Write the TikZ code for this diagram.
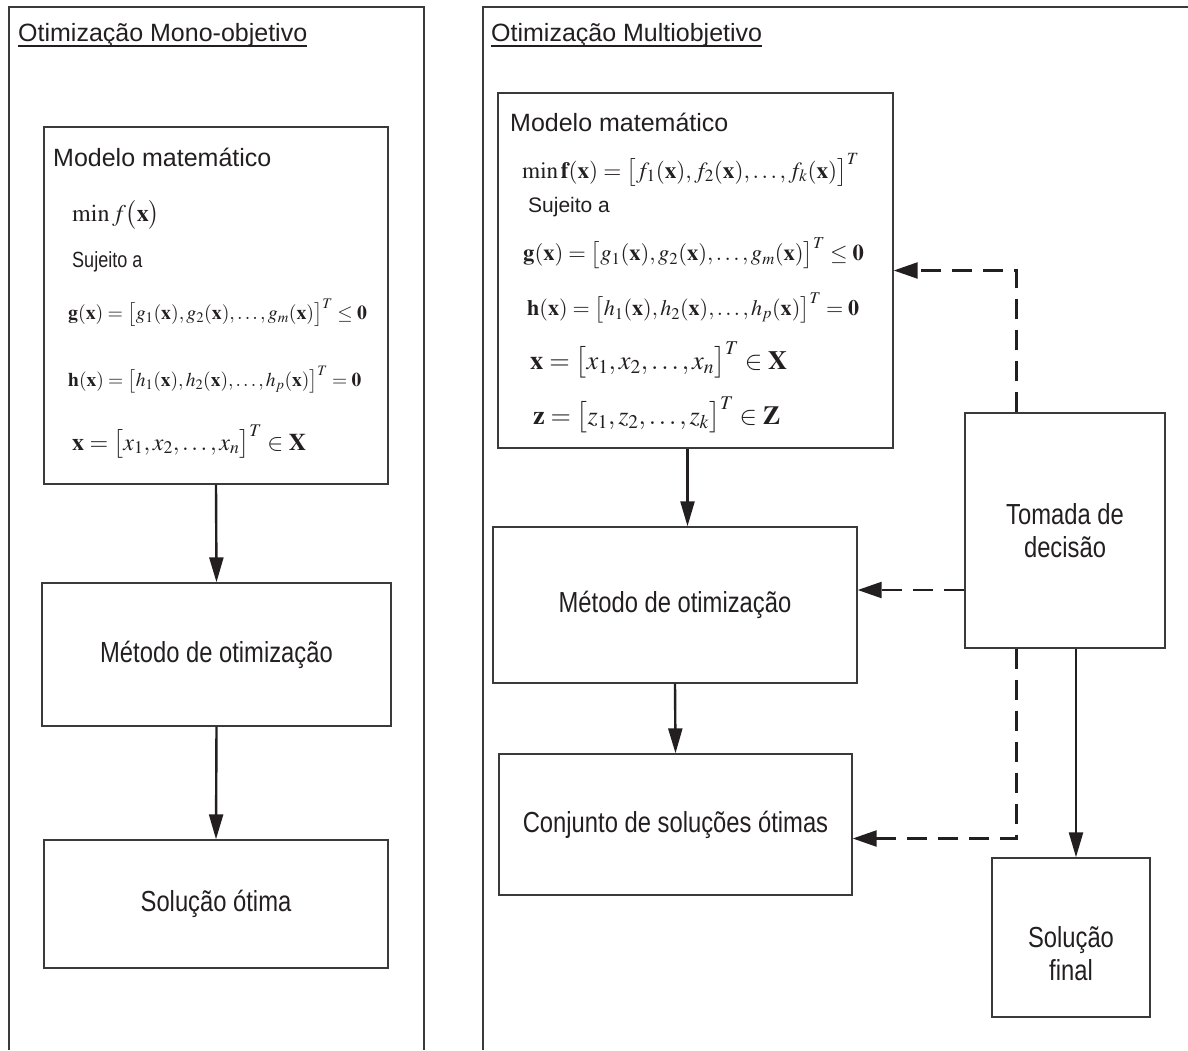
\documentclass[tikz,border=0pt]{standalone}
\usepackage{mathptmx}
\usepackage[no-math]{fontspec}
\setmainfont{Liberation Sans}
\newfontfamily\narrowsans[FakeStretch=0.82]{Liberation Sans}
\usetikzlibrary{arrows.meta}

\definecolor{ink}{HTML}{231F20}
\definecolor{rule}{HTML}{3A3A3A}

\tikzset{
    frame/.style={draw=rule, line width=1.6pt},
    box/.style={draw=rule, line width=1.4pt, inner sep=0pt},
    boxtext/.style={font=\narrowsans\fontsize{29}{33}\selectfont, align=center, text=ink},
    title/.style={anchor=base west, inner sep=0pt, text=ink, font=\fontsize{25}{30}\selectfont},
    underline/.style={draw=ink, line width=1.5pt},
    formula/.style={anchor=west, inner sep=0pt, text=ink, font=\fontsize{#1}{#1}\selectfont},
    note/.style={anchor=west, inner sep=0pt, text=ink, font=#1},
    flow/.style={draw=ink, line width=2.4pt, -{Triangle[width=14pt,length=25pt]}},
    feedback/.style={draw=ink, line width=2.4pt, dash pattern=on 20pt off 11pt,
        -{Triangle[width=16pt,length=24pt]}},
}

\begin{document}
\begin{tikzpicture}[x=1pt, y=-1pt]
    \useasboundingbox (0,0) rectangle (1188,1050);

    % molduras
    \draw[frame] (9,1050) -- (9,7) -- (424,7) -- (424,1050);
    \draw[frame] (483,1050) -- (483,7) -- (1188,7);

    \node[title] (lefttitle) at (18,41) {Otimização Mono-objetivo};
    \node[title] (righttitle) at (491,41) {Otimização Multiobjetivo};
    \draw[underline] ([yshift=-5pt]lefttitle.base west) -- ([yshift=-5pt]lefttitle.base east);
    \draw[underline] ([yshift=-5pt]righttitle.base west) -- ([yshift=-5pt]righttitle.base east);

    % mono-objetivo
    \node[box, minimum width=344pt, minimum height=357pt] (leftmodel) at (216,305.5) {};
    \node[formula=25] (leftmodelname) at (53,157) {Modelo matemático};
    \node[formula=24] (leftmin) at (72,215) {$\min f\bigl(\mathbf{x}\bigr)$};
    \node[note=\narrowsans\fontsize{22}{22}\selectfont] (leftsubj) at (72,262) {Sujeito a};
    \node[formula=19.8] (leftg) at (68,313) {$\mathbf{g}(\mathbf{x})=\bigl[g_1(\mathbf{x}),g_2(\mathbf{x}),\ldots,g_m(\mathbf{x})\bigr]^T\le\mathbf{0}$};
    \node[formula=19.5] (lefth) at (68,380) {$\mathbf{h}(\mathbf{x})=\bigl[h_1(\mathbf{x}),h_2(\mathbf{x}),\ldots,h_p(\mathbf{x})\bigr]^T=\mathbf{0}$};
    \node[formula=24] (leftx) at (72,442) {$\mathbf{x}=\bigl[x_1,x_2,\ldots,x_n\bigr]^T\in\mathbf{X}$};

    \node[box, boxtext, minimum width=349pt, minimum height=143pt] (leftmethod) at (216.5,654.5) {Método de otimização};
    \node[box, boxtext, minimum width=344pt, minimum height=128pt] (leftsolution) at (216,904) {Solução ótima};

    \draw[flow] (leftmodel.south) -- (leftmethod.north);
    \draw[flow] (leftmethod.south) -- (leftsolution.north);

    % multiobjetivo
    \node[box, minimum width=395pt, minimum height=355pt] (rightmodel) at (695.5,270.5) {};
    \node[formula=25] (rightmodelname) at (510,122) {Modelo matemático};
    \node[formula=23.2] (rightmin) at (522,170) {$\min\mathbf{f}(\mathbf{x})=\bigl[f_1(\mathbf{x}),f_2(\mathbf{x}),\ldots,f_k(\mathbf{x})\bigr]^T$};
    \node[note=\fontsize{21}{21}\selectfont] (rightsubj) at (528,207) {Sujeito a};
    \node[formula=22.6] (rightg) at (523,253) {$\mathbf{g}(\mathbf{x})=\bigl[g_1(\mathbf{x}),g_2(\mathbf{x}),\ldots,g_m(\mathbf{x})\bigr]^T\le\mathbf{0}$};
    \node[formula=22.1] (righth) at (527,308) {$\mathbf{h}(\mathbf{x})=\bigl[h_1(\mathbf{x}),h_2(\mathbf{x}),\ldots,h_p(\mathbf{x})\bigr]^T=\mathbf{0}$};
    \node[formula=26.4] (rightx) at (530,360) {$\mathbf{x}=\bigl[x_1,x_2,\ldots,x_n\bigr]^T\in\mathbf{X}$};
    \node[formula=26.2] (rightz) at (533,415) {$\mathbf{z}=\bigl[z_1,z_2,\ldots,z_k\bigr]^T\in\mathbf{Z}$};

    \node[box, boxtext, minimum width=364pt, minimum height=156pt] (rightmethod) at (675,605) {Método de otimização};
    \node[box, boxtext, minimum width=353pt, minimum height=141pt] (rightset) at (675.5,824.5) {Conjunto de soluções ótimas};
    \node[box, boxtext, minimum width=200pt, minimum height=235pt] (decision) at (1065,530.5) {Tomada de\\decisão};
    \node[box, minimum width=158pt, minimum height=159pt,
          label={[boxtext, yshift=-16pt, text depth=0pt]center:Solução\\final}] (final) at (1071,937.5) {};

    \draw[flow] ([xshift=-8pt]rightmodel.south) -- ([xshift=-8pt]rightmodel.south |- rightmethod.north);
    \draw[flow] (rightmethod.south) -- (rightset.north);

    \coordinate (methodin) at ([yshift=15pt]rightmethod.east);
    \coordinate (setin) at ([yshift=-14pt]rightset.east);
    \draw[feedback] ([xshift=52pt]decision.north west) |- (rightmodel.east);
    \draw[feedback] (decision.west |- methodin) -- (methodin);
    \draw[feedback] ([xshift=52pt]decision.south west) |- (setin);
    \draw[flow] ([xshift=5pt]final.north |- decision.south) -- ([xshift=5pt]final.north);
\end{tikzpicture}
\end{document}
